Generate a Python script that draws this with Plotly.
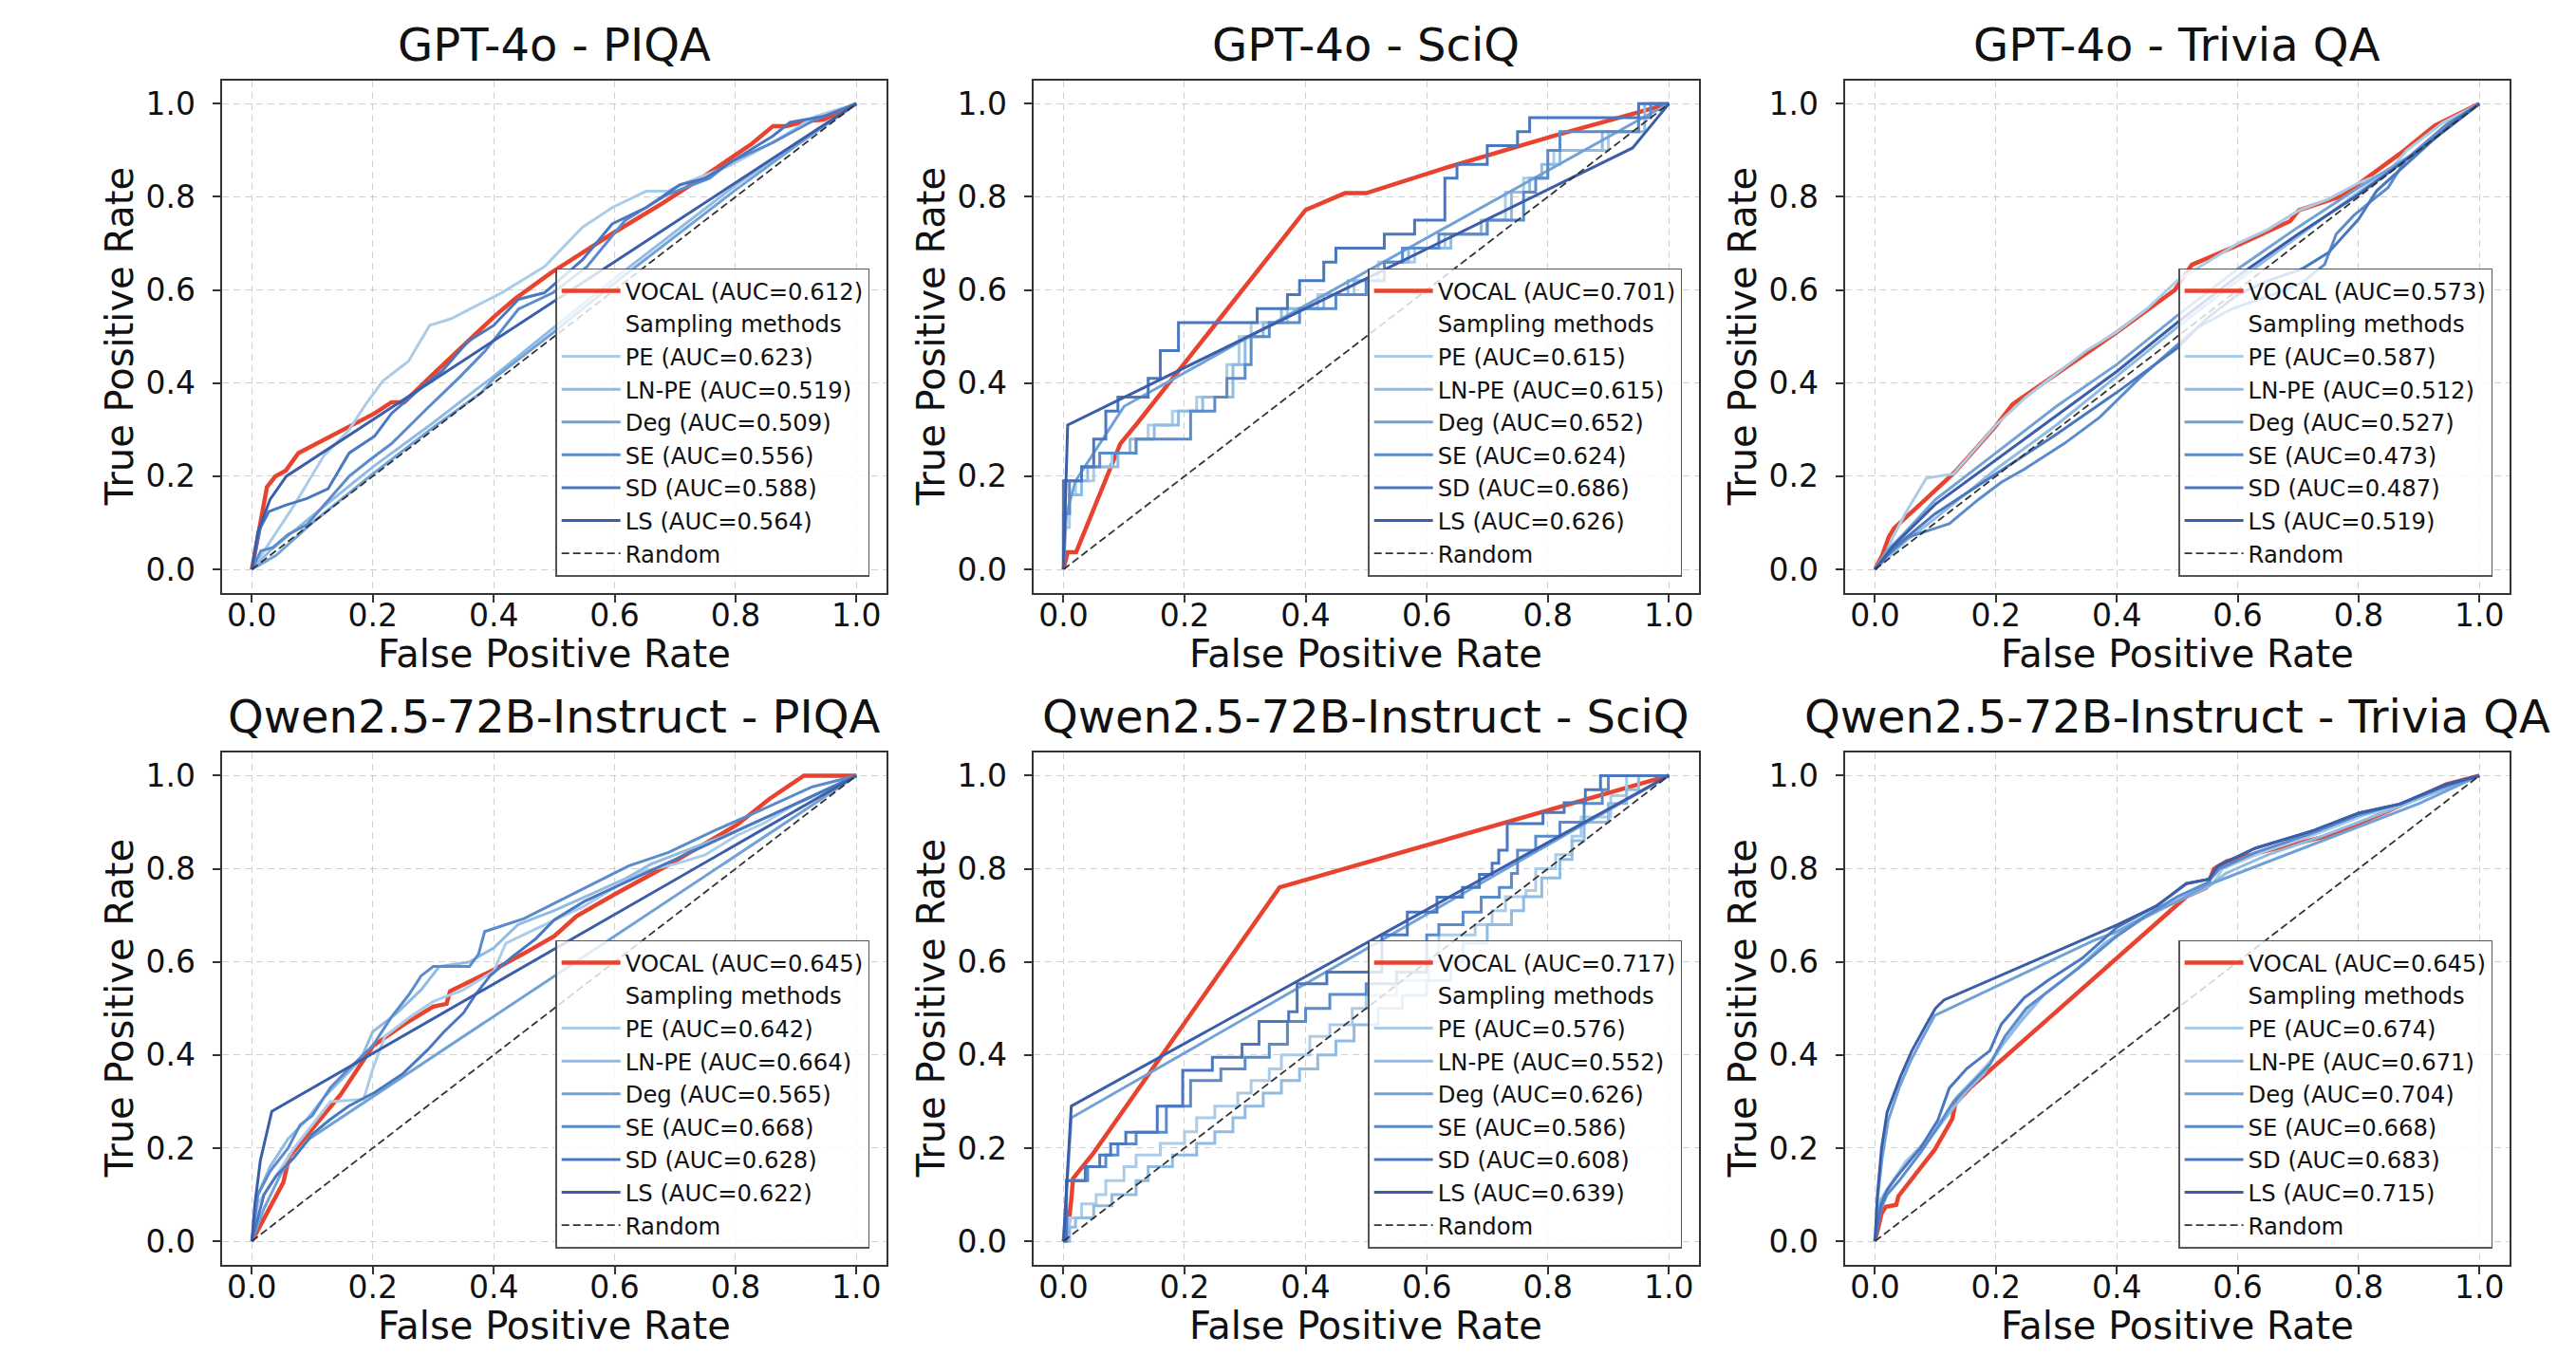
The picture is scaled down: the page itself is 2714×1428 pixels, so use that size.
import plotly.graph_objects as go

W, H = 2714, 1428

# ---------------- data ----------------
METHODS = ["VOCAL", "PE", "LN-PE", "Deg", "SE", "SD", "LS"]
TITLES = ["GPT-4o - PIQA", "GPT-4o - SciQ", "GPT-4o - Trivia QA",
          "Qwen2.5-72B-Instruct - PIQA", "Qwen2.5-72B-Instruct - SciQ",
          "Qwen2.5-72B-Instruct - Trivia QA"]
TICKS = [0.0, 0.2, 0.4, 0.6, 0.8, 1.0]
TICK_TEXT = ["0.0", "0.2", "0.4", "0.6", "0.8", "1.0"]

AUC_G_PIQA = [0.612, 0.623, 0.519, 0.509, 0.556, 0.588, 0.564]
AUC_G_SCIQ = [0.701, 0.615, 0.615, 0.652, 0.624, 0.686, 0.626]
AUC_G_TRIVIA = [0.573, 0.587, 0.512, 0.527, 0.473, 0.487, 0.519]
AUC_Q_PIQA = [0.645, 0.642, 0.664, 0.565, 0.668, 0.628, 0.622]
AUC_Q_SCIQ = [0.717, 0.576, 0.552, 0.626, 0.586, 0.608, 0.639]
AUC_Q_TRIVIA = [0.645, 0.674, 0.671, 0.704, 0.668, 0.683, 0.715]

RANDOM_LINE = [[0, 0], [1, 1]]

# GPT-4o - PIQA  (fpr, tpr)
G_PIQA_VOCAL = [[0, 0], [0.012, 0.09], [0.025, 0.177], [0.039, 0.2], [0.056, 0.212], [0.077, 0.25],
                [0.154, 0.303], [0.203, 0.335], [0.231, 0.359], [0.252, 0.359], [0.294, 0.412],
                [0.343, 0.472], [0.40, 0.542], [0.434, 0.58], [0.473, 0.615], [0.494, 0.636],
                [0.596, 0.721], [0.68, 0.787], [0.743, 0.84], [0.827, 0.914], [0.862, 0.952],
                [0.883, 0.952], [0.918, 0.963], [0.946, 0.966], [1, 1]]
G_PIQA_PE = [[0, 0], [0.03, 0.06], [0.07, 0.138], [0.119, 0.244], [0.161, 0.30], [0.189, 0.356],
             [0.217, 0.405], [0.259, 0.447], [0.294, 0.524], [0.329, 0.538], [0.371, 0.566],
             [0.413, 0.594], [0.484, 0.65], [0.547, 0.735], [0.596, 0.777], [0.652, 0.812],
             [0.687, 0.812], [0.722, 0.833], [0.792, 0.868], [0.862, 0.917], [0.932, 0.973], [1, 1]]
G_PIQA_LNPE = [[0, 0], [0.03, 0.04], [0.1, 0.115], [0.2, 0.22], [0.3, 0.315], [0.4, 0.415],
               [0.5, 0.52], [0.6, 0.625], [0.7, 0.725], [0.8, 0.825], [0.9, 0.915], [1, 1]]
G_PIQA_DEG = [[0, 0], [0.04, 0.03], [0.1, 0.1], [0.2, 0.205], [0.3, 0.305], [0.38, 0.38],
              [0.4, 0.41], [0.5, 0.51], [0.6, 0.615], [0.7, 0.715], [0.8, 0.815], [0.9, 0.91], [1, 1]]
G_PIQA_SE = [[0, 0], [0.015, 0.04], [0.035, 0.047], [0.06, 0.075], [0.091, 0.096], [0.133, 0.159],
             [0.161, 0.2], [0.196, 0.236], [0.231, 0.27], [0.287, 0.342], [0.343, 0.412],
             [0.385, 0.468], [0.441, 0.559], [0.498, 0.594], [0.554, 0.65], [0.617, 0.749],
             [0.687, 0.805], [0.757, 0.84], [0.792, 0.875], [0.862, 0.917], [0.932, 0.966], [1, 1]]
G_PIQA_SD = [[0, 0], [0.014, 0.089], [0.028, 0.124], [0.056, 0.138], [0.091, 0.152], [0.126, 0.173],
             [0.161, 0.25], [0.203, 0.286], [0.231, 0.335], [0.287, 0.398], [0.315, 0.426],
             [0.357, 0.489], [0.40, 0.524], [0.441, 0.58], [0.484, 0.594], [0.547, 0.665],
             [0.596, 0.742], [0.652, 0.777], [0.708, 0.826], [0.75, 0.84], [0.827, 0.903],
             [0.862, 0.931], [0.89, 0.96], [0.946, 0.973], [1, 1]]
G_PIQA_LS = [[0, 0], [0.01, 0.08], [0.03, 0.15], [0.057, 0.2], [1, 1]]

# GPT-4o - SciQ
G_SCIQ_VOCAL = [[0, 0], [0.007, 0.037], [0.021, 0.037], [0.094, 0.27], [0.122, 0.314], [0.40, 0.772],
                [0.465, 0.808], [0.50, 0.808], [0.63, 0.862], [0.81, 0.931], [1, 1]]
G_SCIQ_PE = [[0, 0], [0, 0.09], [0.01, 0.16], [0.02, 0.19], [0.05, 0.22], [0.08, 0.25], [0.12, 0.28],
             [0.14, 0.31], [0.18, 0.34], [0.22, 0.37], [0.27, 0.44], [0.29, 0.5], [0.31, 0.53],
             [0.37, 0.56], [0.42, 0.59], [0.48, 0.62], [0.52, 0.66], [0.58, 0.69], [0.63, 0.72],
             [0.70, 0.75], [0.73, 0.81], [0.76, 0.84], [0.80, 0.87], [0.81, 0.90], [0.90, 0.94],
             [0.95, 1.0], [1, 1]]
G_SCIQ_LNPE = [[0, 0], [0, 0.12], [0.01, 0.16], [0.03, 0.19], [0.04, 0.22], [0.09, 0.25], [0.11, 0.28],
               [0.15, 0.31], [0.19, 0.34], [0.23, 0.37], [0.28, 0.44], [0.3, 0.5], [0.33, 0.53],
               [0.36, 0.56], [0.43, 0.59], [0.47, 0.62], [0.53, 0.66], [0.57, 0.69], [0.64, 0.72],
               [0.69, 0.75], [0.74, 0.81], [0.77, 0.84], [0.79, 0.87], [0.82, 0.90], [0.89, 0.94],
               [0.96, 1.0], [1, 1]]
G_SCIQ_DEG = [[0, 0], [0.005, 0.12], [0.02, 0.19], [0.05, 0.25], [0.1, 0.35], [0.95, 0.965], [1, 1]]
G_SCIQ_SE = [[0, 0], [0, 0.12], [0.01, 0.19], [0.03, 0.22], [0.06, 0.25], [0.12, 0.28], [0.21, 0.34],
             [0.25, 0.37], [0.27, 0.41], [0.3, 0.44], [0.31, 0.5], [0.34, 0.53], [0.39, 0.56],
             [0.45, 0.59], [0.5, 0.62], [0.53, 0.66], [0.56, 0.69], [0.62, 0.72], [0.70, 0.75],
             [0.76, 0.81], [0.78, 0.84], [0.8, 0.9], [0.82, 0.94], [0.95, 0.97], [0.97, 1.0], [1, 1]]
G_SCIQ_SD = [[0, 0], [0, 0.19], [0.03, 0.22], [0.05, 0.28], [0.07, 0.34], [0.09, 0.37], [0.14, 0.41],
             [0.16, 0.47], [0.19, 0.53], [0.32, 0.56], [0.37, 0.59], [0.39, 0.62], [0.43, 0.66],
             [0.45, 0.69], [0.53, 0.72], [0.58, 0.75], [0.63, 0.84], [0.65, 0.87], [0.70, 0.91],
             [0.75, 0.94], [0.77, 0.97], [0.95, 1.0], [1, 1]]
G_SCIQ_LS = [[0, 0], [0.007, 0.31], [0.94, 0.905], [1, 1]]

# GPT-4o - Trivia QA
G_TRIVIA_VOCAL = [[0, 0], [0.012, 0.03], [0.023, 0.07], [0.032, 0.089], [0.075, 0.14], [0.133, 0.21],
                  [0.2, 0.308], [0.228, 0.355], [0.4, 0.509], [0.496, 0.6], [0.524, 0.654],
                  [0.6, 0.696], [0.687, 0.748], [0.701, 0.771], [0.773, 0.802], [0.873, 0.897],
                  [0.926, 0.953], [1, 1]]
G_TRIVIA_PE = [[0, 0], [0.02, 0.04], [0.03, 0.07], [0.05, 0.12], [0.085, 0.196], [0.13, 0.205],
               [0.16, 0.25], [0.2, 0.31], [0.25, 0.37], [0.3, 0.42], [0.35, 0.47], [0.4, 0.51],
               [0.45, 0.56], [0.5, 0.62], [0.55, 0.66], [0.6, 0.7], [0.65, 0.73], [0.7, 0.77],
               [0.75, 0.795], [0.8, 0.83], [0.85, 0.855], [0.88, 0.9], [0.94, 0.96], [1, 1]]
G_TRIVIA_LNPE = [[0, 0], [0.05, 0.06], [0.1, 0.11], [0.2, 0.215], [0.3, 0.31], [0.4, 0.415],
                 [0.5, 0.52], [0.6, 0.62], [0.7, 0.715], [0.8, 0.81], [0.9, 0.9], [1, 1]]
G_TRIVIA_DEG = [[0, 0], [0.02, 0.04], [0.05, 0.08], [0.1, 0.15], [0.2, 0.25], [0.3, 0.35], [0.4, 0.44],
                [0.5, 0.545], [0.6, 0.645], [0.7, 0.735], [0.8, 0.82], [0.9, 0.9], [1, 1]]
G_TRIVIA_SE = [[0, 0], [0.02, 0.03], [0.056, 0.07], [0.123, 0.098], [0.171, 0.15], [0.209, 0.187],
               [0.247, 0.215], [0.314, 0.271], [0.372, 0.327], [0.438, 0.411], [0.486, 0.466],
               [0.534, 0.52], [0.591, 0.56], [0.658, 0.59], [0.706, 0.615], [0.744, 0.655],
               [0.763, 0.72], [0.792, 0.76], [0.82, 0.79], [0.849, 0.82], [0.878, 0.88],
               [0.945, 0.955], [1, 1]]
G_TRIVIA_SD = [[0, 0], [0.03, 0.045], [0.1, 0.12], [0.2, 0.205], [0.3, 0.29], [0.4, 0.38], [0.5, 0.475],
               [0.55, 0.54], [0.6, 0.59], [0.65, 0.62], [0.706, 0.645], [0.75, 0.68], [0.8, 0.752],
               [0.83, 0.813], [0.87, 0.86], [0.92, 0.92], [0.96, 0.965], [1, 1]]
G_TRIVIA_LS = [[0, 0], [0.03, 0.05], [0.1, 0.14], [0.2, 0.235], [0.3, 0.33], [0.4, 0.425], [0.5, 0.53],
               [0.6, 0.63], [0.7, 0.72], [0.8, 0.805], [0.9, 0.9], [1, 1]]

# Qwen2.5-72B-Instruct - PIQA
Q_PIQA_VOCAL = [[0, 0], [0.02, 0.05], [0.052, 0.126], [0.062, 0.182], [0.1, 0.24], [0.147, 0.315],
                [0.2, 0.419], [0.252, 0.466], [0.3, 0.504], [0.322, 0.51], [0.328, 0.537],
                [0.394, 0.579], [0.45, 0.618], [0.5, 0.655], [0.537, 0.698], [0.6, 0.745],
                [0.694, 0.812], [0.803, 0.895], [0.856, 0.95], [0.913, 1.0], [0.97, 1.0], [1, 1]]
Q_PIQA_PE = [[0, 0], [0.01, 0.08], [0.04, 0.14], [0.07, 0.2], [0.1, 0.25], [0.13, 0.3], [0.185, 0.305],
             [0.2, 0.37], [0.22, 0.44], [0.26, 0.48], [0.3, 0.515], [0.35, 0.54], [0.4, 0.58],
             [0.42, 0.64], [0.46, 0.665], [0.5, 0.69], [0.55, 0.72], [0.6, 0.76], [0.65, 0.795],
             [0.7, 0.81], [0.75, 0.83], [0.8, 0.87], [0.85, 0.9], [0.9, 0.94], [0.95, 0.97], [1, 1]]
Q_PIQA_LNPE = [[0, 0], [0.01, 0.1], [0.03, 0.16], [0.06, 0.22], [0.09, 0.26], [0.12, 0.31], [0.15, 0.35],
               [0.18, 0.39], [0.2, 0.45], [0.24, 0.49], [0.28, 0.54], [0.31, 0.59], [0.36, 0.6],
               [0.4, 0.63], [0.44, 0.68], [0.5, 0.71], [0.56, 0.745], [0.62, 0.78], [0.66, 0.81],
               [0.72, 0.84], [0.78, 0.87], [0.85, 0.91], [0.92, 0.95], [1, 1]]
Q_PIQA_DEG = [[0, 0], [0.02, 0.07], [0.05, 0.15], [0.095, 0.22], [1, 1]]
Q_PIQA_SE = [[0, 0], [0.01, 0.1], [0.03, 0.15], [0.06, 0.2], [0.08, 0.25], [0.1, 0.27], [0.13, 0.33],
             [0.16, 0.37], [0.2, 0.42], [0.23, 0.48], [0.26, 0.53], [0.28, 0.57], [0.3, 0.59],
             [0.36, 0.59], [0.375, 0.617], [0.385, 0.665], [0.45, 0.693], [0.537, 0.75],
             [0.623, 0.806], [0.689, 0.835], [0.765, 0.882], [0.832, 0.92], [0.927, 0.976], [1, 1]]
Q_PIQA_SD = [[0, 0], [0.02, 0.1], [0.04, 0.14], [0.07, 0.18], [0.1, 0.23], [0.128, 0.26], [0.16, 0.29],
             [0.204, 0.32], [0.25, 0.36], [0.29, 0.41], [0.318, 0.45], [0.35, 0.49], [0.37, 0.53],
             [0.394, 0.57], [0.43, 0.61], [0.47, 0.65], [0.5, 0.69], [0.55, 0.73], [0.6, 0.76],
             [0.65, 0.79], [0.7, 0.82], [0.75, 0.85], [0.8, 0.88], [0.85, 0.91], [0.9, 0.94],
             [0.95, 0.97], [1, 1]]
Q_PIQA_LS = [[0, 0], [0.005, 0.08], [0.014, 0.173], [0.033, 0.279], [1, 1]]

# Qwen2.5-72B-Instruct - SciQ
Q_SCIQ_VOCAL = [[0, 0], [0.008, 0.03], [0.013, 0.09], [0.016, 0.135], [0.05, 0.19], [0.357, 0.76], [1, 1]]
Q_SCIQ_PE = [[0, 0], [0.01, 0.05], [0.03, 0.08], [0.054, 0.1], [0.07, 0.13], [0.1, 0.16], [0.12, 0.185],
             [0.16, 0.21], [0.2, 0.235], [0.22, 0.265], [0.25, 0.29], [0.288, 0.318], [0.31, 0.345],
             [0.34, 0.37], [0.36, 0.4], [0.407, 0.44], [0.44, 0.465], [0.477, 0.5], [0.5, 0.528],
             [0.55, 0.56], [0.603, 0.6], [0.62, 0.658], [0.68, 0.68], [0.708, 0.71], [0.73, 0.74],
             [0.764, 0.753], [0.78, 0.8], [0.813, 0.83], [0.84, 0.87], [0.855, 0.911], [0.904, 0.957],
             [0.93, 1.0], [1, 1]]
Q_SCIQ_LNPE = [[0, 0], [0.01, 0.03], [0.02, 0.05], [0.05, 0.076], [0.08, 0.1], [0.12, 0.13], [0.14, 0.16],
               [0.18, 0.185], [0.22, 0.21], [0.25, 0.235], [0.28, 0.265], [0.3, 0.29], [0.33, 0.318],
               [0.36, 0.345], [0.39, 0.37], [0.42, 0.4], [0.45, 0.43], [0.48, 0.465], [0.52, 0.5],
               [0.56, 0.528], [0.6, 0.56], [0.64, 0.6], [0.66, 0.64], [0.7, 0.68], [0.74, 0.71],
               [0.76, 0.74], [0.79, 0.78], [0.82, 0.82], [0.84, 0.86], [0.86, 0.9], [0.9, 0.94],
               [0.93, 0.97], [0.95, 1.0], [1, 1]]
Q_SCIQ_DEG = [[0, 0], [0.013, 0.265], [1, 1]]
Q_SCIQ_SE = [[0, 0], [0.005, 0.13], [0.04, 0.16], [0.07, 0.185], [0.09, 0.209], [0.12, 0.234],
             [0.17, 0.26], [0.17, 0.29], [0.21, 0.318], [0.21, 0.345], [0.26, 0.37], [0.3, 0.395],
             [0.34, 0.423], [0.37, 0.472], [0.4, 0.5], [0.44, 0.53], [0.5, 0.553], [0.55, 0.578],
             [0.6, 0.658], [0.62, 0.68], [0.66, 0.707], [0.69, 0.739], [0.72, 0.76], [0.74, 0.79],
             [0.75, 0.84], [0.78, 0.87], [0.82, 0.9], [0.86, 0.94], [0.89, 0.97], [0.9, 1.0], [1, 1]]
Q_SCIQ_SD = [[0, 0], [0.005, 0.13], [0.036, 0.16], [0.06, 0.185], [0.078, 0.209], [0.103, 0.234],
             [0.155, 0.26], [0.155, 0.29], [0.197, 0.318], [0.197, 0.367], [0.246, 0.395],
             [0.295, 0.423], [0.323, 0.472], [0.372, 0.493], [0.386, 0.553], [0.435, 0.578],
             [0.526, 0.658], [0.568, 0.707], [0.617, 0.739], [0.659, 0.76], [0.687, 0.788],
             [0.708, 0.812], [0.719, 0.84], [0.733, 0.897], [0.792, 0.921], [0.827, 0.942],
             [0.862, 0.97], [0.887, 1.0], [1, 1]]
Q_SCIQ_LS = [[0, 0], [0.013, 0.29], [1, 1]]

# Qwen2.5-72B-Instruct - Trivia QA
Q_TRIVIA_VOCAL = [[0, 0], [0.011, 0.06], [0.018, 0.074], [0.035, 0.078], [0.039, 0.097], [0.099, 0.197],
                  [0.128, 0.263], [0.133, 0.296], [0.157, 0.329], [0.515, 0.74], [0.548, 0.759],
                  [0.561, 0.80], [0.582, 0.816], [0.649, 0.839], [0.754, 0.872], [0.849, 0.924],
                  [0.945, 0.981], [1, 1]]
Q_TRIVIA_PE = [[0, 0], [0.01, 0.09], [0.025, 0.12], [0.05, 0.17], [0.08, 0.21], [0.11, 0.26], [0.135, 0.31],
               [0.165, 0.35], [0.2, 0.4], [0.225, 0.45], [0.26, 0.51], [0.3, 0.55], [0.35, 0.6],
               [0.4, 0.66], [0.46, 0.71], [0.52, 0.75], [0.56, 0.77], [0.575, 0.8], [0.64, 0.835],
               [0.73, 0.875], [0.81, 0.915], [0.88, 0.94], [0.95, 0.98], [1, 1]]
Q_TRIVIA_LNPE = [[0, 0], [0.01, 0.09], [0.03, 0.13], [0.06, 0.18], [0.09, 0.22], [0.12, 0.27],
                 [0.15, 0.32], [0.18, 0.36], [0.21, 0.42], [0.24, 0.47], [0.28, 0.53], [0.33, 0.58],
                 [0.38, 0.64], [0.44, 0.69], [0.5, 0.73], [0.55, 0.76], [0.58, 0.79], [0.65, 0.83],
                 [0.74, 0.87], [0.82, 0.91], [0.9, 0.95], [1, 1]]
Q_TRIVIA_DEG = [[0, 0], [0.005, 0.1], [0.012, 0.18], [0.022, 0.26], [0.04, 0.33], [0.06, 0.39],
                [0.08, 0.44], [0.099, 0.485], [0.362, 0.646], [0.4, 0.665], [0.45, 0.7], [0.5, 0.73],
                [0.55, 0.765], [0.6, 0.79], [0.65, 0.815], [0.7, 0.84], [0.8, 0.89], [0.9, 0.94], [1, 1]]
Q_TRIVIA_SE = [[0, 0], [0.01, 0.07], [0.02, 0.1], [0.04, 0.13], [0.075, 0.19], [0.104, 0.245], [0.13, 0.3],
               [0.16, 0.34], [0.19, 0.38], [0.215, 0.44], [0.25, 0.5], [0.29, 0.54], [0.34, 0.59],
               [0.4, 0.655], [0.45, 0.7], [0.5, 0.74], [0.55, 0.77], [0.57, 0.8], [0.63, 0.835],
               [0.72, 0.875], [0.8, 0.915], [0.87, 0.94], [0.94, 0.975], [1, 1]]
Q_TRIVIA_SD = [[0, 0], [0.01, 0.08], [0.02, 0.11], [0.037, 0.14], [0.075, 0.2], [0.104, 0.26],
               [0.123, 0.329], [0.152, 0.371], [0.19, 0.409], [0.209, 0.466], [0.247, 0.523],
               [0.286, 0.56], [0.343, 0.608], [0.4, 0.674], [0.467, 0.721], [0.515, 0.768],
               [0.553, 0.778], [0.567, 0.806], [0.629, 0.844], [0.725, 0.882], [0.801, 0.92],
               [0.868, 0.939], [0.945, 0.981], [1, 1]]
Q_TRIVIA_LS = [[0, 0], [0.004, 0.1], [0.011, 0.201], [0.02, 0.277], [0.042, 0.353], [0.061, 0.409],
               [0.085, 0.466], [0.1, 0.5], [0.114, 0.518], [0.4, 0.679], [0.467, 0.721], [0.515, 0.768],
               [0.553, 0.778], [0.567, 0.806], [0.629, 0.844], [0.725, 0.882], [0.801, 0.92],
               [0.868, 0.939], [0.945, 0.981], [1, 1]]

PANELS = [
    ([G_PIQA_VOCAL, G_PIQA_PE, G_PIQA_LNPE, G_PIQA_DEG, G_PIQA_SE, G_PIQA_SD, G_PIQA_LS], AUC_G_PIQA),
    ([G_SCIQ_VOCAL, G_SCIQ_PE, G_SCIQ_LNPE, G_SCIQ_DEG, G_SCIQ_SE, G_SCIQ_SD, G_SCIQ_LS], AUC_G_SCIQ),
    ([G_TRIVIA_VOCAL, G_TRIVIA_PE, G_TRIVIA_LNPE, G_TRIVIA_DEG, G_TRIVIA_SE, G_TRIVIA_SD, G_TRIVIA_LS], AUC_G_TRIVIA),
    ([Q_PIQA_VOCAL, Q_PIQA_PE, Q_PIQA_LNPE, Q_PIQA_DEG, Q_PIQA_SE, Q_PIQA_SD, Q_PIQA_LS], AUC_Q_PIQA),
    ([Q_SCIQ_VOCAL, Q_SCIQ_PE, Q_SCIQ_LNPE, Q_SCIQ_DEG, Q_SCIQ_SE, Q_SCIQ_SD, Q_SCIQ_LS], AUC_Q_SCIQ),
    ([Q_TRIVIA_VOCAL, Q_TRIVIA_PE, Q_TRIVIA_LNPE, Q_TRIVIA_DEG, Q_TRIVIA_SE, Q_TRIVIA_SD, Q_TRIVIA_LS], AUC_Q_TRIVIA),
]
# curves drawn as staircases (panel index, method index)
STEP_CURVES = {(1, 1), (1, 2), (1, 4), (1, 5), (4, 1), (4, 2), (4, 4), (4, 5)}

# ---------------- style ----------------
FONT = "DejaVu Sans"
TXT = "#111111"
COLORS = ["#e8432f", "#abcce8", "#90bbe2", "#70a2d8", "#5a8ccd", "#4a78c0", "#3b5eab"]
WIDTHS = [4.5, 3.0, 3.0, 3.0, 3.0, 3.0, 3.0]

# axes boxes in pixels (left, right) per column, (top, bottom) per row
COL_PX = [(225.5, 926.2), (1080.5, 1782.2), (1935.6, 2636.1)]
ROW_PX = [(76.8, 616.6), (784.9, 1324.6)]

fig = go.Figure()
annotations = []
layout = dict(width=W, height=H, margin=dict(l=0, r=0, t=0, b=0),
              paper_bgcolor="white", plot_bgcolor="white", showlegend=True,
              font=dict(family=FONT, color=TXT))

for i, (curves, aucs) in enumerate(PANELS):
    r, c = divmod(i, 3)
    n = i + 1
    sfx = "" if n == 1 else str(n)
    xa, ya = "x" + sfx, "y" + sfx
    leg = "legend" + sfx
    (lx, rx), (ty, by) = COL_PX[c], ROW_PX[r]

    def add(pts, name, color, width, dash=None, shape="linear", group=""):
        fig.add_trace(go.Scatter(
            x=[p[0] for p in pts], y=[p[1] for p in pts], mode="lines", name=name,
            line=dict(color=color, width=width, dash=dash, shape=shape),
            xaxis=xa, yaxis=ya, legend=leg, legendgroup=f"{group}{n}", hoverinfo="skip"))

    add(curves[0], f"VOCAL (AUC={aucs[0]:.3f})", COLORS[0], WIDTHS[0], group="v")
    fig.add_trace(go.Scatter(x=[None], y=[None], mode="lines", name="Sampling methods",
                             line=dict(color="rgba(0,0,0,0)", width=1),
                             xaxis=xa, yaxis=ya, legend=leg, legendgroup=f"s{n}"))
    for k in range(1, 7):
        shape = "hv" if (i, k) in STEP_CURVES else "linear"
        add(curves[k], f"{METHODS[k]} (AUC={aucs[k]:.3f})", COLORS[k], WIDTHS[k],
            shape=shape, group=f"m{k}_")
    add(RANDOM_LINE, "Random", "#333333", 1.8, dash="8px,4px", group="r")

    axis_common = dict(range=[-0.05, 1.05], tickvals=TICKS, ticktext=TICK_TEXT,
                       showgrid=True, gridcolor="rgba(170,170,170,0.55)", griddash="7px,5px",
                       gridwidth=1.4, zeroline=False, showline=True, mirror=True,
                       linecolor="#333333", linewidth=2, ticks="outside", ticklen=8,
                       tickwidth=2, tickcolor="#333333",
                       tickfont=dict(family=FONT, size=33, color=TXT))
    layout["xaxis" + sfx] = dict(axis_common, domain=[lx / W, rx / W], anchor=ya,
                                 ticklabelstandoff=-14)
    layout["yaxis" + sfx] = dict(axis_common, domain=[1 - by / H, 1 - ty / H], anchor=xa,
                                 ticklabelstandoff=11)

    layout[leg] = dict(x=(rx - 18) / W, y=1 - (by - 17) / H, xanchor="right", yanchor="bottom",
                       bgcolor="rgba(255,255,255,0.8)", bordercolor="#555555", borderwidth=1.5,
                       font=dict(family=FONT, size=24.3, color=TXT), tracegroupgap=2.5,
                       itemwidth=62, traceorder="normal")

    dref_x, dref_y = xa + " domain", ya + " domain"
    annotations.append(dict(text=TITLES[i], xref=dref_x, yref=dref_y, x=0.5, y=1, xanchor="center",
                            yanchor="middle", yshift=38, showarrow=False,
                            font=dict(family=FONT, size=48, color=TXT)))
    annotations.append(dict(text="False Positive Rate", xref=dref_x, yref=dref_y, x=0.5, y=0,
                            xanchor="center", yanchor="middle", yshift=-64, showarrow=False,
                            font=dict(family=FONT, size=40, color=TXT)))
    annotations.append(dict(text="True Positive Rate", xref=dref_x, yref=dref_y, x=0, y=0.5,
                            xanchor="center", yanchor="middle", xshift=-108, textangle=-90,
                            showarrow=False, font=dict(family=FONT, size=40, color=TXT)))

layout["annotations"] = annotations
fig.update_layout(**layout)
fig.write_html("out.html")
